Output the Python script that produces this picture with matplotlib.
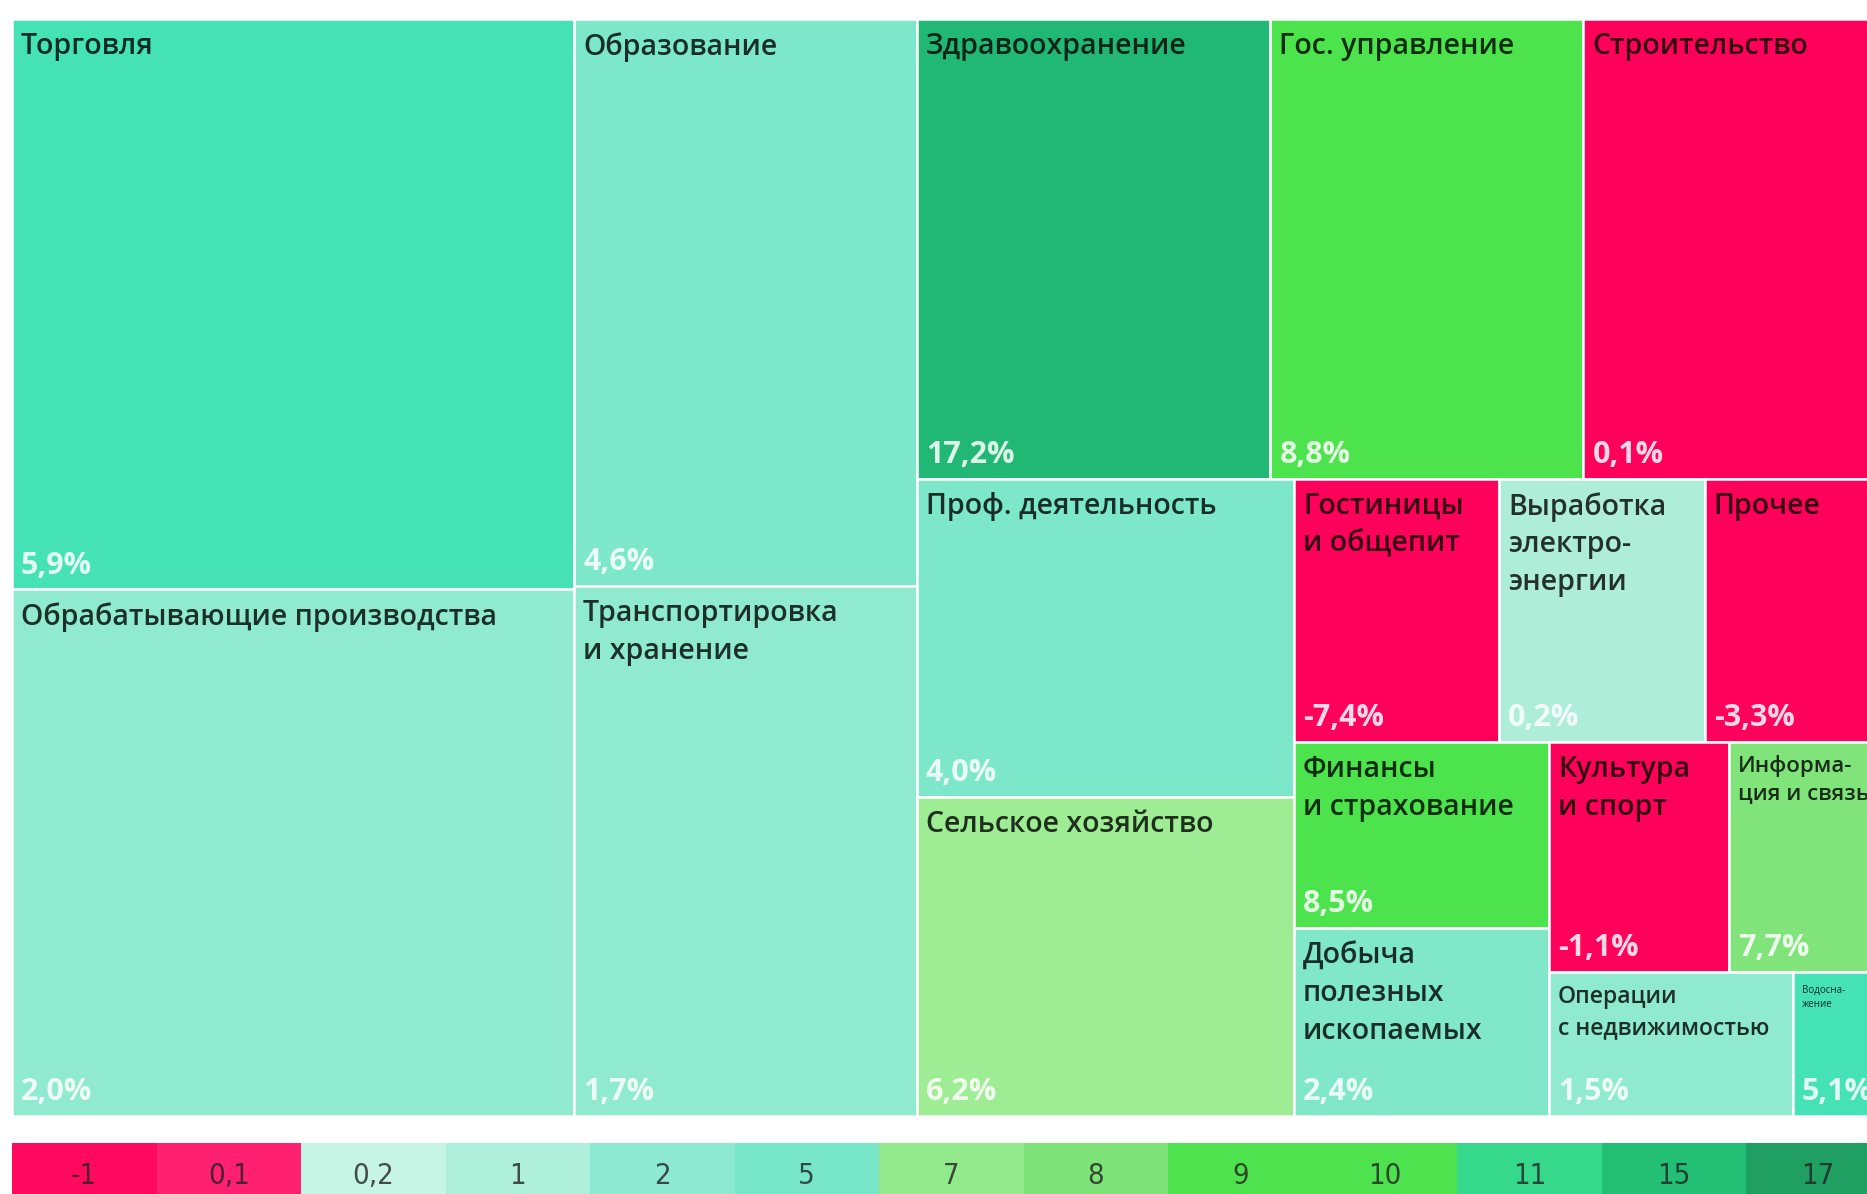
import numpy as np
import matplotlib
matplotlib.use('Agg')
import matplotlib.pyplot as plt
from matplotlib.patches import Rectangle
from matplotlib import font_manager

# sectors, growth of wages (%) and share of total (area of the cell)
sectors = ['Торговля', 'Обрабатывающие производства', 'Образование',
           'Транспортировка\nи хранение', 'Здравоохранение', 'Гос. управление',
           'Строительство', 'Проф. деятельность', 'Сельское хозяйство',
           'Гостиницы\nи общепит', 'Выработка\nэлектро-\nэнергии', 'Прочее',
           'Финансы\nи страхование', 'Добыча\nполезных\nископаемых',
           'Культура\nи спорт', 'Информа-\nция и связь',
           'Операции\nс недвижимостью', 'Водосна-\nжение']
growth = [5.9, 2.0, 4.6, 1.7, 17.2, 8.8, 0.1, 4.0, 6.2, -7.4, 0.2, -3.3,
          8.5, 2.4, -1.1, 7.7, 1.5, 5.1]
share = [15.44, 14.25, 9.36, 8.75, 7.83, 6.93, 7.12, 5.78, 5.80, 2.60, 2.61,
         2.54, 2.28, 2.31, 1.99, 1.95, 1.69, 0.78]
legend_ticks = ['-1', '0,1', '0,2', '1', '2', '5', '7', '8', '9', '10', '11', '15', '17']

# styles
cell_colors = ['#45e2b6', '#8feacf', '#7de8c9', '#8feacf', '#20b874', '#4de34d',
               '#ff005a', '#7de8c9', '#9eec94', '#ff005a', '#aeeed9', '#ff005a',
               '#4de34d', '#80e7c9', '#ff005a', '#80e47a', '#8feacf', '#45e2b6']
legend_colors = ['#ff0a5e', '#ff2070', '#c6f5e6', '#aef0da', '#8de9cf', '#78e6c8',
                 '#93ea8c', '#7ee47a', '#4fe24f', '#4fe24f', '#36d98c', '#22bf75',
                 '#1f9f62']
small = {15: 16, 16: 16.5, 17: 7}

# nesting of the treemap: 'h' = side by side, 'v' = stacked
tree = ('h', [('v', [0, 1]), ('v', [2, 3]),
              ('v', [('h', [4, 5, 6]),
                     ('h', [('v', [7, 8]),
                            ('v', [('h', [9, 10, 11]),
                                   ('h', [('v', [12, 13]),
                                          ('v', [('h', [14, 15]),
                                                 ('h', [16, 17])])])])])])])


def total(node):
    if isinstance(node, int):
        return share[node]
    return sum(total(c) for c in node[1])


def layout(node, x, y, w, h, out):
    if isinstance(node, int):
        out[node] = (x, y, w, h)
        return
    d, kids = node
    s = total(node)
    pos = 0.0
    for k in kids:
        f = total(k) / s
        if d == 'h':
            layout(k, x + pos * w, y, w * f, h, out)
        else:
            layout(k, x, y + pos * h, w, h * f, out)
        pos += f


rects = {}
layout(tree, 0, 0, 1, 1, rects)

W, H = 1867, 1194
fig = plt.figure(figsize=(W / 100, H / 100), dpi=100)
ax = fig.add_axes([12 / W, (H - 1116) / H, 1893 / W, 1097 / H])
ax.set_xlim(0, 1)
ax.set_ylim(1, 0)
ax.axis('off')

lab_font = ['Open Sans', 'DejaVu Sans']
for i, name in enumerate(sectors):
    x, y, w, h = rects[i]
    ax.add_patch(Rectangle((x, y), w, h, facecolor=cell_colors[i],
                           edgecolor='white', linewidth=1.8))
    fs = small.get(i, 20.5)
    ax.annotate(name, (x, y), xytext=(6.5, -9.5), textcoords='offset points',
                ha='left', va='top', fontsize=fs, family=lab_font,
                weight='semibold' if fs > 10 else 'normal',
                color='black', alpha=0.8, linespacing=1.4,
                annotation_clip=False)
    pct = f'{growth[i]:.1f}'.replace('.', ',') + '%'
    ax.annotate(pct, (x, y + h), xytext=(6.5, 11.5), textcoords='offset points',
                ha='left', va='baseline', fontsize=22, family=lab_font,
                weight='bold', color='white', alpha=0.85,
                annotation_clip=False)

# colour scale strip at the bottom
narrow = [f for f in ['Liberation Sans Narrow', 'DejaVu Sans Condensed']
          if any(f == e.name for e in font_manager.fontManager.ttflist)]
lax = fig.add_axes([12 / W, 0, 13 * 144.5 / W, (H - 1143) / H])
lax.bar(np.arange(len(legend_ticks)), 1, width=1, align='edge',
        color=legend_colors, linewidth=0)
lax.set_xlim(0, len(legend_ticks))
lax.set_ylim(0, 1)
lax.axis('off')
for i, t in enumerate(legend_ticks):
    lax.text(i + 0.5, 0.36, t, ha='center', va='center', fontsize=21,
             family=narrow + ['DejaVu Sans'], stretch='condensed',
             color='#222222', alpha=0.8)

plt.savefig('out.png', dpi=100)
plt.close()
